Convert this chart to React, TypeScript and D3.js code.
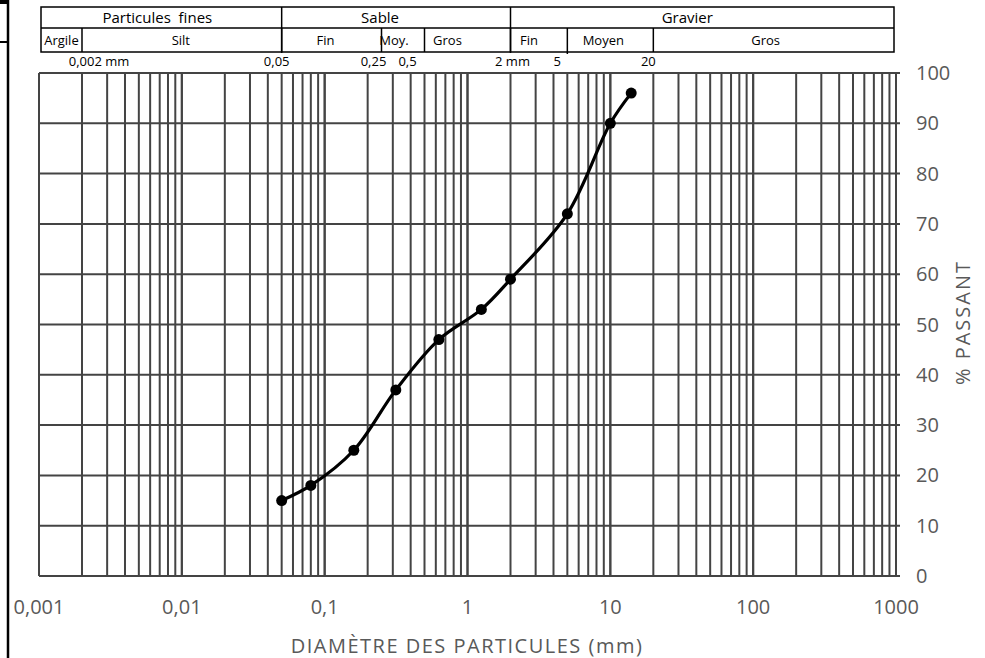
import { line, curveCatmullRom, scaleLog, scaleLinear, range } from "d3";

// granulometric curve (diameter in mm, % passing)
const diameters = [0.05, 0.08, 0.16, 0.315, 0.63, 1.25, 2, 5, 10, 14];
const passing = [15, 18, 25, 37, 47, 53, 59, 72, 90, 96];

const xTicks = [0.001, 0.01, 0.1, 1, 10, 100, 1000];
const xTickLabels = ["0,001", "0,01", "0,1", "1", "10", "100", "1000"];
const yTicks = range(0, 101, 10);

// classification header
const groupBounds = [0.001, 0.05, 2, 1000];
const groupNames = ["Particules  fines", "Sable", "Gravier"];
const classBounds = [0.001, 0.002, 0.05, 0.25, 0.5, 2, 5, 20, 1000];
const classNames = ["Argile", "Silt", "Fin", "Moy.", "Gros", "Fin", "Moyen", "Gros"];
const limitValues = [0.002, 0.05, 0.25, 0.5, 2, 5, 20];
const limitLabels = ["0,002 mm", "0,05", "0,25", "0,5", "2 mm", "5", "20"];

const W = 985;
const H = 658;
const font = "'Open Sans', sans-serif";

export default function App() {
  const x = scaleLog().domain([0.001, 1000]).range([39, 896]);
  const y = scaleLinear().domain([0, 100]).range([576, 73]);

  const minor: number[] = [];
  for (let d = 0.001; d < 999; d *= 10) {
    for (let k = 1; k <= 10; k++) minor.push(+(d * k).toPrecision(3));
  }

  const pts = diameters.map((d, i) => [x(d), y(passing[i])] as [number, number]);
  const path = line().curve(curveCatmullRom.alpha(0.5))(pts) ?? "";

  // header geometry
  const top = 7, mid = 28, bot = 52;
  const bx = (v: number, i: number, n: number) =>
    i === 0 ? x(v) + 2 : i === n - 1 ? x(v) - 2 : x(v);
  const groupDx = [-4, -16, -15];
  const classDx = [0, -1, -6, -9, -20, -10, -7, -8];
  const limitDx = [17, -5, -8, -17, 2, -10, -5];

  return (
    <svg width={W} height={H} style={{ position: "absolute", left: 0, top: 0, background: "#fff" }} fontFamily={font}>
      {/* cut-off frame on the left */}
      <rect x={0} y={0} width={9} height={4} fill="#000" />
      <line x1={8} x2={8} y1={0} y2={H} stroke="#000" strokeWidth={2.5} />
      <line x1={0} x2={8} y1={42} y2={42} stroke="#000" strokeWidth={2} />

      {/* header table */}
      <g stroke="#000" strokeWidth={1.5} fill="none">
        <rect x={x(0.001) + 2} y={top} width={x(1000) - x(0.001) - 4} height={bot - top} />
        <line x1={x(0.001) + 2} x2={x(1000) - 2} y1={mid} y2={mid} />
        {groupBounds.slice(1, -1).map((v) => (
          <line key={v} x1={x(v)} x2={x(v)} y1={top} y2={bot + 1} />
        ))}
        {classBounds.slice(1, -1).map((v) => (
          <line key={v} x1={x(v)} x2={x(v)} y1={mid} y2={bot + (v === 5 ? 2 : 0)} />
        ))}
      </g>
      <g fontSize={15} textAnchor="middle" fill="#000">
        {groupNames.map((n, i) => {
          const a = bx(groupBounds[i], i, groupBounds.length);
          const b = bx(groupBounds[i + 1], i + 1, groupBounds.length);
          return (
            <text key={n} x={(a + b) / 2 + groupDx[i]} y={23} style={{ whiteSpace: "pre" }}>
              {n}
            </text>
          );
        })}
      </g>
      <g fontSize={13} textAnchor="middle" fill="#000">
        {classNames.map((n, i) => {
          const a = bx(classBounds[i], i, classBounds.length);
          const b = bx(classBounds[i + 1], i + 1, classBounds.length);
          return (
            <text key={i} x={(a + b) / 2 + classDx[i]} y={45}>
              {n}
            </text>
          );
        })}
        {limitLabels.map((n, i) => (
          <text key={n} x={x(limitValues[i]) + limitDx[i]} y={66}>
            {n}
          </text>
        ))}
      </g>

      {/* grid */}
      <g stroke="#444" strokeWidth={2}>
        {minor.map((v) => (
          <line key={v} x1={x(v)} x2={x(v)} y1={y(100)} y2={y(0)} />
        ))}
        {yTicks.map((t) => (
          <line key={t} x1={x(0.001)} x2={x(1000) + 4} y1={y(t)} y2={y(t)} />
        ))}
      </g>

      {/* curve */}
      <path d={path} fill="none" stroke="#000" strokeWidth={3.2} />
      {pts.map(([px, py], i) => (
        <circle key={i} cx={px} cy={py} r={5.5} fill="#000" />
      ))}

      {/* axes labels */}
      <g fontSize={20} fill="#595959">
        {xTicks.map((t, i) => (
          <text key={t} x={x(t)} y={614} textAnchor="middle">
            {xTickLabels[i]}
          </text>
        ))}
        {yTicks.map((t) => (
          <text key={t} x={916} y={y(t) + 7}>
            {t}
          </text>
        ))}
        <text x={467} y={653} textAnchor="middle" letterSpacing={1.5}>
          DIAMÈTRE DES PARTICULES (mm)
        </text>
        <text transform={`translate(970, ${y(50) - 2}) rotate(-90)`} textAnchor="middle" letterSpacing={2}>
          % PASSANT
        </text>
      </g>
    </svg>
  );
}
